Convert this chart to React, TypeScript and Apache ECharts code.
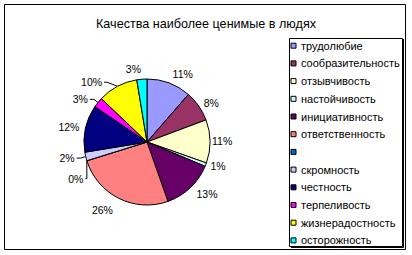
import React, { useEffect, useRef } from "react";
import * as echarts from "echarts";

const title = "Качества наиболее ценимые в людях";
const categories = [
  "трудолюбие",
  "сообразительность",
  "отзывчивость",
  "настойчивость",
  "инициативность",
  "ответственность",
  " ",
  "скромность",
  "честность",
  "терпеливость",
  "жизнерадостность",
  "осторожность",
];
const values = [11.4, 7.9, 11.1, 0.9, 13.3, 25.6, 0, 2.2, 12.1, 2.6, 10.3, 2.6];
const colors = [
  "#9999FF",
  "#993366",
  "#FFFFCC",
  "#CCFFFF",
  "#660066",
  "#FF8080",
  "#0066CC",
  "#CCCCFF",
  "#000080",
  "#FF00FF",
  "#FFFF00",
  "#00FFFF",
];

const FONT = "'Liberation Sans', Arial, sans-serif";

export default function App() {
  const ref = useRef<HTMLDivElement>(null);
  useEffect(() => {
    document.body.style.margin = "0";
    const chart = echarts.init(ref.current!, null, { renderer: "svg" });

    // label placement tuning per slice: [leader shown, length, length2, distance, lineHeight]
    const labelTune: [boolean, number, number, number, number][] = [
      [false, 10, 0, 0, 8],
      [false, 6, 0, 0, 8],
      [false, 2, 0, 0, 8],
      [false, 5, 0, 0, 8],
      [false, 9, 0, 0, 8],
      [false, 13, 0, 0, 8],
      [true, 5, 4, 2, 8],
      [true, 7, 4, 2, 26],
      [false, 6, 0, 0, 8],
      [true, 5, 4, 2, 8],
      [true, 10, 3, 2, 8],
      [false, 10, 0, 0, 8],
    ];

    chart.setOption({
      animation: false,
      backgroundColor: "#ffffff",
      title: {
        text: title,
        left: "center",
        top: 17.5,
        padding: 0,
        textStyle: { fontFamily: FONT, fontSize: 12.6, fontWeight: "normal", color: "#000" },
      },
      legend: {
        orient: "vertical",
        left: 290.5,
        top: 40.2,
        padding: 0,
        itemWidth: 5,
        itemHeight: 5,
        itemGap: 6.7,
        icon: "rect",
        itemStyle: { borderColor: "#000", borderWidth: 1 },
        textStyle: { fontFamily: FONT, fontSize: 11, color: "#000" },
        data: categories,
      },
      graphic: [
        {
          type: "rect",
          shape: { x: 4.5, y: 4.5, width: 401, height: 245 },
          style: { fill: "none", stroke: "#000", lineWidth: 1 },
          silent: true,
        },
        {
          type: "polyline",
          shape: { points: [[403.5, 39], [403.5, 247.5], [291, 247.5]] },
          style: { fill: "none", stroke: "#000", lineWidth: 1 },
          silent: true,
        },
        {
          type: "rect",
          shape: { x: 289.5, y: 38.5, width: 113, height: 208 },
          style: { fill: "none", stroke: "#000", lineWidth: 1 },
          silent: true,
        },
      ],
      series: [
        {
          type: "pie",
          center: [147, 142],
          radius: 63,
          startAngle: 90,
          clockwise: true,
          avoidLabelOverlap: true,
          itemStyle: { borderColor: "#000", borderWidth: 1 },
          label: {
            show: true,
            position: "outside",
            fontFamily: FONT,
            fontSize: 10.5,
            color: "#000",
            formatter: (p: any) => Math.round(p.percent) + "%",
          },
          labelLine: {
            show: false,
            lineStyle: { color: "#000", width: 1 },
          },
          emphasis: { disabled: true },
          data: categories.map((name, i) => {
            const [lead, len, len2, dist, lh] = labelTune[i];
            return {
              name,
              value: values[i],
              itemStyle: { color: colors[i] },
              label: { distanceToLabelLine: dist, lineHeight: lh },
              labelLine: { show: lead, length: len, length2: len2 },
            };
          }),
        },
      ],
    });
    return () => chart.dispose();
  }, []);
  return <div ref={ref} style={{ width: 412, height: 255 }} />;
}
